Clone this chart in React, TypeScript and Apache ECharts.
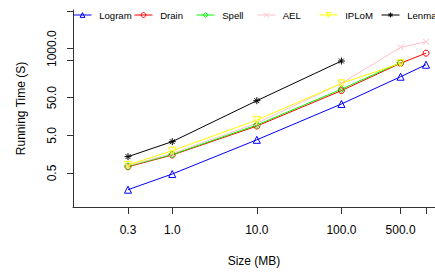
import React, { useEffect, useRef } from 'react';
import * as echarts from 'echarts';

const sizes = [0.3, 1, 10, 100, 500, 1000];
const logram = [0.18, 0.47, 3.8, 34, 180, 375];
const drain = [0.73, 1.5, 8.8, 77, 410, 760];
const spell = [0.76, 1.55, 9.4, 84, 430, null];
const ael = [0.78, 1.65, 10.5, 120, 1080, 1530];
const iplom = [0.82, 1.95, 12.7, 120, 410, null];
const lenma = [1.36, 3.4, 41.6, 470, null, null];

const xTickValues = [0.3, 1, 10, 100, 500, 1000];
const xTickLabels = ['0.3', '1.0', '10.0', '100.0', '500.0', ''];
const yTickValues = [0.5, 5, 50, 500, 1000, 10000];
const yTickLabels = ['0.5', '5.0', '50.0', '', '1000.0', ''];

const FONT = '"Liberation Sans", Arial, Helvetica, sans-serif';

const lg = Math.log10;

function toPts(vals: (number | null)[]) {
  const out: any[] = [];
  vals.forEach((v, i) => {
    if (v != null) out.push([lg(sizes[i]), lg(v)]);
  });
  return out;
}

function labelFor(values: number[], labels: string[], v: number) {
  for (let i = 0; i < values.length; i++) {
    if (Math.abs(lg(values[i]) - v) < 1e-6) return labels[i];
  }
  return '';
}

const X_PATH = 'path://M0,0L10,10M10,0L0,10';
const STAR_PATH = 'path://M0,5L10,5M5,0L5,10M1.5,1.5L8.5,8.5M8.5,1.5L1.5,8.5';
const DTRI_PATH = 'path://M0,0L10,0L5,9Z';

const seriesDefs = [
  { name: 'Logram', data: logram, color: '#0000ff', symbol: 'triangle', size: 7, left: 73 },
  { name: 'Drain', data: drain, color: '#ff0000', symbol: 'circle', size: 6, left: 134 },
  { name: 'Spell', data: spell, color: '#00ff00', symbol: 'diamond', size: 7, left: 196 },
  { name: 'AEL', data: ael, color: '#ffc0cb', symbol: X_PATH, size: 6, left: 257 },
  { name: 'IPLoM', data: iplom, color: '#ffff00', symbol: DTRI_PATH, size: 7, left: 319 },
  { name: 'Lenma', data: lenma, color: '#000000', symbol: STAR_PATH, size: 7, left: 381 },
];

export default function App() {
  const ref = useRef<HTMLDivElement>(null);
  useEffect(() => {
    if (!ref.current) return;
    const chart = echarts.init(ref.current, null, { renderer: 'svg' });
    const option: any = {
      animation: false,
      backgroundColor: '#ffffff',
      textStyle: { fontFamily: FONT },
      grid: { left: 73, right: 0, top: 10, bottom: 66, containLabel: false },
      legend: seriesDefs.map((s) => ({
        data: [s.name],
        left: s.left,
        top: 10,
        itemWidth: 18,
        itemHeight: 6,
        itemGap: 0,
        padding: 0,
        formatter: (n: string) => ' ' + n,
        itemStyle: { color: 'rgba(0,0,0,0)', borderColor: s.color, borderWidth: 1 },
        lineStyle: { color: s.color, width: 1 },
        textStyle: { fontSize: 9.6, color: '#000', fontFamily: FONT },
      })),
      xAxis: {
        type: 'value',
        min: -1.173,
        max: 3.106,
        name: 'Size (MB)',
        nameLocation: 'middle',
        nameGap: 48,
        nameTextStyle: { fontSize: 12, color: '#000', fontFamily: FONT },
        axisLine: { show: true, onZero: false, lineStyle: { color: '#333', width: 1 } },
        axisTick: {
          show: true,
          length: 7,
          lineStyle: { color: '#333' },
          customValues: xTickValues.map(lg),
        },
        axisLabel: {
          show: true,
          margin: 17,
          fontSize: 12,
          color: '#000',
          fontFamily: FONT,
          customValues: xTickValues.filter((_, i) => xTickLabels[i] !== '').map(lg),
          formatter: (v: number) => labelFor(xTickValues, xTickLabels, v),
        },
        splitLine: { show: false },
      },
      yAxis: {
        type: 'value',
        min: -1.204,
        max: 4.027,
        name: 'Running Time (S)',
        nameLocation: 'middle',
        nameGap: 46,
        nameTextStyle: { fontSize: 12, color: '#000', fontFamily: FONT },
        axisLine: { show: true, onZero: false, lineStyle: { color: '#333', width: 1 } },
        axisTick: {
          show: true,
          length: 6,
          lineStyle: { color: '#333' },
          customValues: yTickValues.map(lg),
        },
        axisLabel: {
          show: true,
          rotate: 90,
          margin: 15,
          fontSize: 12,
          color: '#000',
          fontFamily: FONT,
          customValues: yTickValues.filter((_, i) => yTickLabels[i] !== '').map(lg),
          formatter: (v: number) => labelFor(yTickValues, yTickLabels, v),
        },
        splitLine: { show: false },
      },
      series: seriesDefs.map((s) => ({
        name: s.name,
        type: 'line',
        data: toPts(s.data),
        symbol: s.symbol,
        symbolSize: s.size,
        showAllSymbol: true,
        lineStyle: { color: s.color, width: 1 },
        itemStyle: { color: 'rgba(0,0,0,0)', borderColor: s.color, borderWidth: 1 },
        emphasis: { disabled: true },
      })),
    };
    chart.setOption(option);
    return () => chart.dispose();
  }, []);
  return (
    <div
      ref={ref}
      style={{ position: 'absolute', left: 0, top: 0, width: 435, height: 273 }}
    />
  );
}
